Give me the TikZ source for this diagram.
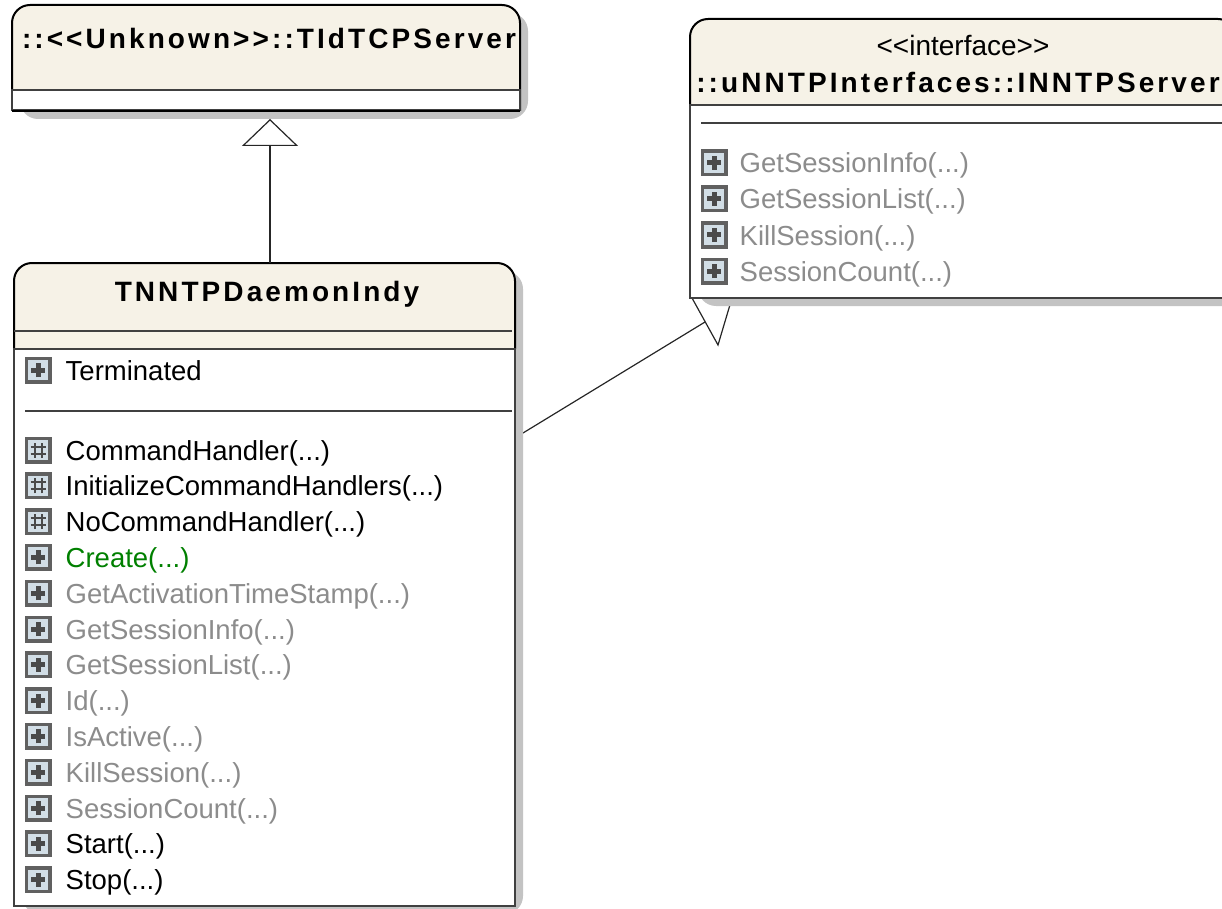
\documentclass[tikz,border=0pt]{standalone}
\usepackage{fontspec}
\setmainfont{Liberation Sans}[Ligatures=TeXOff]
\newfontfamily\titlefont{Liberation Sans}[Ligatures=TeXOff, LetterSpace=11]
\usetikzlibrary{positioning,arrows.meta}
\definecolor{boxbeige}{HTML}{F6F2E7}
\definecolor{shadowgray}{HTML}{C3C3C3}
\definecolor{inheritgray}{HTML}{8C8C8C}
\definecolor{ctorgreen}{HTML}{008000}
\definecolor{iconfill}{HTML}{D2DEE6}
\definecolor{iconedge}{HTML}{606060}
\definecolor{markgray}{HTML}{4A4A4A}
\definecolor{rulegray}{HTML}{404040}
\tikzstyle{classtitle} = [font={\titlefont\bfseries\fontsize{28}{32}\selectfont}, inner sep=0pt, text height=20pt, text depth=0pt]
\tikzstyle{stereo} = [font={\fontsize{28}{32}\selectfont}, inner sep=0pt, text height=20pt, text depth=0pt]
\tikzstyle{member} = [font={\fontsize{27.5}{32}\selectfont}, inner sep=0pt, text height=20pt, text depth=0pt]
\tikzstyle{boxarea} = [inner sep=0pt, outer sep=0pt]
\tikzstyle{titleedge} = [draw=black, line width=2pt, fill=boxbeige]
\tikzstyle{bodyedge} = [draw=rulegray, line width=1.2pt, fill=white]
\tikzstyle{sepline} = [draw=rulegray, line width=1.2pt]
\tikzstyle{link} = [draw=black!85, line width=1.2pt]
\tikzstyle{iconbase} = [draw=iconedge, fill=iconfill, line width=3.5pt, minimum size=23.5pt, inner sep=0pt]
\tikzstyle{pub} = [iconbase, path picture={% public
    \draw[markgray, line width=5pt] (path picture bounding box.center) +(-7pt,0pt) -- +(7pt,0pt) +(0pt,-7pt) -- +(0pt,7pt);}]
\tikzstyle{prot} = [iconbase, path picture={% protected
    \draw[markgray, line width=2pt] (path picture bounding box.center)
        +(-3.5pt,-7.5pt) -- +(-3.5pt,7.5pt) +(3.5pt,-7.5pt) -- +(3.5pt,7.5pt)
        +(-7.5pt,-3.5pt) -- +(7.5pt,-3.5pt) +(-7.5pt,3.5pt) -- +(7.5pt,3.5pt);}]
\begin{document}
\begin{tikzpicture}[x=1pt, y=-1pt]
\useasboundingbox (0,0) rectangle (1222,909);

\node[boxarea, minimum width=508pt, minimum height=106pt] (server) at (266,58) {};
\node[boxarea, minimum width=501pt, minimum height=643pt] (daemon) at (264.5,584.5) {};
\node[boxarea, minimum width=546pt, minimum height=279pt] (iface) at (963,158.5) {};

% realization head, half hidden under the interface
\coordinate (realLeft) at (692,298);
\coordinate (realTip) at (718,345);
\coordinate (realRight) at (732,298);
\coordinate (realFoot) at (523,433);
\coordinate (realHit) at (705,322);
\draw[link, fill=white] (realLeft) -- (realTip) -- (realRight) -- cycle;
\draw[link] (realFoot) -- (realHit);

% shadows
\fill[shadowgray, rounded corners=18pt] ([shift={(8pt,-8pt)}]server.south west) rectangle ([shift={(8pt,-8pt)}]server.north east);
\fill[shadowgray, rounded corners=18pt] ([shift={(8pt,-8pt)}]daemon.south west) rectangle ([shift={(8pt,-8pt)}]daemon.north east);
\fill[shadowgray, rounded corners=18pt] ([shift={(8pt,-8pt)}]iface.south west) rectangle ([shift={(8pt,-8pt)}]iface.north east);

% TIdTCPServer
\draw[titleedge, rounded corners=18pt] (server.south west) -- (server.north west) -- (server.north east) -- (server.south east);
\draw[bodyedge] (server.west |- 0,90) rectangle ([yshift=1pt]server.south east);
\draw[draw=black, line width=2pt] (server.south west) -- (server.south east);
\node[classtitle] (serverName) at (269,39) {::<<Unknown>>::TIdTCPServer};

% TNNTPDaemonIndy
\draw[titleedge, rounded corners=18pt] (daemon.west |- 0,349) -- (daemon.north west) -- (daemon.north east) -- (daemon.east |- 0,349);
\draw[bodyedge] (daemon.west |- 0,349) rectangle (daemon.south east);
\draw[sepline] (daemon.west |- 0,331) -- (512,331);
\draw[sepline] (25,411) -- (512,411);
\node[classtitle] (daemonName) at (267,291) {TNNTPDaemonIndy};

\node[pub] (terminatedIc) at (38,370) {};
\node[member, right=14pt of terminatedIc] (terminated) {Terminated};

\node[prot] (cmdHandlerIc) at (38,450) {};
\node[member, right=14pt of cmdHandlerIc] (cmdHandler) {CommandHandler(...)};
\node[prot] (initHandlersIc) at (38,485.8) {};
\node[member, right=14pt of initHandlersIc] (initHandlers) {InitializeCommandHandlers(...)};
\node[prot] (noCmdHandlerIc) at (38,521.6) {};
\node[member, right=14pt of noCmdHandlerIc] (noCmdHandler) {NoCommandHandler(...)};
\node[pub] (createIc) at (38,557.4) {};
\node[member, text=ctorgreen, right=14pt of createIc] (create) {Create(...)};
\node[pub] (activationIc) at (38,593.2) {};
\node[member, text=inheritgray, right=14pt of activationIc] (activation) {GetActivationTimeStamp(...)};
\node[pub] (sessInfoIc) at (38,629) {};
\node[member, text=inheritgray, right=14pt of sessInfoIc] (sessInfo) {GetSessionInfo(...)};
\node[pub] (sessListIc) at (38,664.8) {};
\node[member, text=inheritgray, right=14pt of sessListIc] (sessList) {GetSessionList(...)};
\node[pub] (idIc) at (38,700.6) {};
\node[member, text=inheritgray, right=14pt of idIc] (id) {Id(...)};
\node[pub] (isActiveIc) at (38,736.4) {};
\node[member, text=inheritgray, right=14pt of isActiveIc] (isActive) {IsActive(...)};
\node[pub] (killSessIc) at (38,772.2) {};
\node[member, text=inheritgray, right=14pt of killSessIc] (killSess) {KillSession(...)};
\node[pub] (sessCountIc) at (38,808) {};
\node[member, text=inheritgray, right=14pt of sessCountIc] (sessCount) {SessionCount(...)};
\node[pub] (startIc) at (38,843.8) {};
\node[member, right=14pt of startIc] (start) {Start(...)};
\node[pub] (stopIc) at (38,879.6) {};
\node[member, right=14pt of stopIc] (stop) {Stop(...)};

% INNTPServer
\draw[titleedge, rounded corners=18pt] (iface.west |- 0,105) -- (iface.north west) -- (iface.north east) -- (iface.east |- 0,105);
\draw[bodyedge] (iface.west |- 0,105) rectangle (iface.south east);
\draw[sepline] (701,123) -- (iface.east |- 0,123);
\node[stereo] (ifaceStereo) at (963,46) {<<interface>>};
\node[classtitle] (ifaceName) at (958,83) {::uNNTPInterfaces::INNTPServer};

\node[pub] (ifSessInfoIc) at (714,163) {};
\node[member, text=inheritgray, right=12pt of ifSessInfoIc] (ifSessInfo) {GetSessionInfo(...)};
\node[pub] (ifSessListIc) at (714,199) {};
\node[member, text=inheritgray, right=12pt of ifSessListIc] (ifSessList) {GetSessionList(...)};
\node[pub] (ifKillSessIc) at (714,235) {};
\node[member, text=inheritgray, right=12pt of ifKillSessIc] (ifKillSess) {KillSession(...)};
\node[pub] (ifSessCountIc) at (714,271) {};
\node[member, text=inheritgray, right=12pt of ifSessCountIc] (ifSessCount) {SessionCount(...)};

% generalization
\coordinate (genTip) at (270,119);
\draw[link, -{Triangle[open, length=27pt, width=56pt]}] (genTip |- daemon.north) -- (genTip);
\end{tikzpicture}
\end{document}
